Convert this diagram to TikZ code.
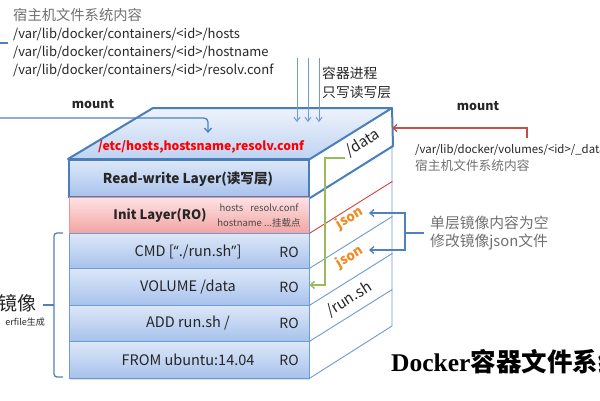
\documentclass[tikz,border=0pt]{standalone}
\usepackage{fontspec}
\setmainfont{Noto Sans CJK SC}
\newfontfamily\titleserif{Liberation Serif}
\newfontfamily\latinf{Open Sans}
\usetikzlibrary{arrows.meta,shadows}
\definecolor{edgeblue}{HTML}{4A7EBB}
\definecolor{lineblue}{HTML}{6C9BD6}
\definecolor{conblue}{HTML}{4F81BD}
\definecolor{fillblueT}{HTML}{DDE8F8}
\definecolor{fillblueB}{HTML}{A8C2EC}
\definecolor{topT}{HTML}{EEF3FC}
\definecolor{topB}{HTML}{BFD3F2}
\definecolor{fillredT}{HTML}{FDE3E3}
\definecolor{fillredB}{HTML}{F3A4A4}
\definecolor{redline}{HTML}{D9413A}
\definecolor{arrowred}{HTML}{C0504D}
\definecolor{greenline}{HTML}{9BBB59}
\definecolor{jsonorange}{HTML}{F08A24}
\definecolor{graytext}{HTML}{707070}
\definecolor{darktext}{HTML}{262626}
\tikzset{
  layer/.style={draw=lineblue, line width=0.8pt, top color=fillblueT, bottom color=fillblueB,
    minimum width=240pt, inner sep=0pt,
    drop shadow={opacity=0.25, shadow xshift=1pt, shadow yshift=-1.5pt}},
  txt/.style={inner sep=0pt, text=darktext},
  ltxt/.style={txt, font=\fontsize{14.5}{16}\selectfont},
  rotxt/.style={txt, font=\fontsize{14}{16}\selectfont},
  sidetxt/.style={txt, rotate=31.8, font=\fontsize{15}{17}\selectfont},
  conn/.style={draw=conblue, line width=1.3pt, -{Straight Barb[length=4pt,width=7pt]}},
}
\begin{document}
\begin{tikzpicture}[x=1pt,y=-1pt]
\useasboundingbox (0,0) rectangle (600,400);

% side face
\fill[white] (309,160) -- (392,108) -- (392,326) -- (309,378) -- cycle;

% front layers
\node[layer, minimum height=37pt, draw=edgeblue, line width=2pt] (rw) at (189,178.5) {};
\node[layer, minimum height=36pt, draw=redline!55, top color=fillredT, bottom color=fillredB] (init) at (189,215) {};
\node[layer, minimum height=35pt] (cmd) at (189,250.5) {};
\node[layer, minimum height=37pt] (vol) at (189,286.5) {};
\node[layer, minimum height=36pt] (add) at (189,323) {};
\node[layer, minimum height=37pt] (from) at (189,359.5) {};

% side face lines
\draw[lineblue, line width=0.9pt] (392,145) -- (392,326) -- (from.south east);
\draw[redline, line width=0.9pt] (init.south east) -- ++(83,-52);
\draw[lineblue, line width=0.9pt] (cmd.south east) -- ++(83,-52);
\draw[lineblue, line width=0.9pt] (vol.south east) -- ++(83,-52);
\draw[lineblue, line width=0.9pt] (add.south east) -- ++(83,-52);
\draw[lineblue, line width=0.9pt] (init.north east) -- (init.south east);
\draw[edgeblue, line width=2pt] (rw.south east) -- ++(83,-52) -- (392,108);

% top face
\draw[edgeblue, line width=2pt, top color=topT, bottom color=topB, line join=round]
  (rw.north west) -- (153,108) -- (392,108) -- (rw.north east) -- cycle;

% front texts
\node[txt, font=\bfseries\fontsize{13.6}{15}\selectfont] (trw) at (188,179) {Read-write Layer(读写层)};
\node[txt, font=\bfseries\fontsize{13}{15}\selectfont] (tinit) at (160,215) {Init Layer(RO)};
\node[txt, text=darktext!85, font=\fontsize{9.5}{11}\selectfont] (thosts) at (259,208) {hosts\hspace{7pt}resolv.conf};
\node[txt, text=darktext!85, font=\fontsize{9.5}{11}\selectfont] (thn) at (259,223) {hostname ...挂载点};
\node[ltxt] (tcmd) at (188,252) {CMD [{\latinf “}./run.sh{\latinf ”}]};
\node[ltxt] (tvol) at (188,287) {VOLUME /data};
\node[ltxt] (tadd) at (188,323) {ADD run.sh /};
\node[ltxt] (tfrom) at (188,360) {FROM ubuntu:14.04};
\node[rotxt] (ro1) at (289,252) {RO};
\node[rotxt] (ro2) at (289,287) {RO};
\node[rotxt] (ro3) at (289,323) {RO};
\node[rotxt] (ro4) at (289,360) {RO};

% top face text
\node[txt, text=red, font=\bfseries\fontsize{12.2}{14}\selectfont] (tetc) at (201,147) {/etc/hosts,hostsname,resolv.conf};

% side texts
\node[sidetxt] (sdata) at (363,143) {/data};
\node[sidetxt, text=jsonorange, font=\bfseries\fontsize{13.5}{15}\selectfont] (sj1) at (350,218) {json};
\node[sidetxt, text=jsonorange, font=\bfseries\fontsize{13.5}{15}\selectfont] (sj2) at (350,257) {json};
\node[sidetxt] (srun) at (349,299) {/run.sh};

% green bracket
\coordinate (g1) at (345,158);
\coordinate (g2) at (325,158);
\coordinate (g3) at (325,285);
\draw[greenline, line width=1.5pt, -{Straight Barb[length=4pt,width=7pt]}] (g1) -- (g2) -- (g3) -- (vol.east |- g3);

% top-left text
\node[txt, anchor=west, text=graytext, font=\fontsize{14.3}{16}\selectfont] (hl0) at (13,15) {宿主机文件系统内容};
\node[txt, anchor=west, font=\fontsize{13}{15}\selectfont] (hl1) at (13,34) {/var/lib/docker/containers/<id>/hosts};
\node[txt, anchor=west, font=\fontsize{13}{15}\selectfont] (hl2) at (13,52) {/var/lib/docker/containers/<id>/hostname};
\node[txt, anchor=west, font=\fontsize{13}{15}\selectfont] (hl3) at (13,70) {/var/lib/docker/containers/<id>/resolv.conf};
\coordinate (stubA) at (0,43);
\coordinate (stubB) at (8,43);
\draw[conblue, line width=1.3pt] (stubA) -- (stubB);

% left mount
\node[txt, font=\bfseries\fontsize{12.5}{14}\selectfont] (mountL) at (93,104) {mount};
\coordinate (lm0) at (0,118);
\coordinate (lm1) at (208,133);
\draw[conn, rounded corners=4pt] (lm0) -| (lm1);

% process arrows
\node[txt, anchor=west, font=\fontsize{13.8}{15}\selectfont] (proc1) at (322,73) {容器进程};
\node[txt, anchor=west, font=\fontsize{13.8}{15}\selectfont] (proc2) at (322,92) {只写读写层};
\foreach \x/\n in {297/a,308/b,319/c}{
  \coordinate (pa\n) at (\x,58);
  \coordinate (pb\n) at (\x,122);
  \draw[draw=lineblue, line width=1pt, -{Straight Barb[length=4pt,width=6pt]}] (pa\n) -- (pb\n);
}

% right mount
\node[txt, font=\bfseries\fontsize{12.5}{14}\selectfont] (mountR) at (478,106) {mount};
\node[txt, anchor=west, font=\fontsize{11.4}{13}\selectfont] (vol1) at (415,150) {/var/lib/docker/volumes/<id>/\_data};
\node[txt, anchor=west, text=graytext, font=\fontsize{12.7}{14}\selectfont] (vol2) at (415,166) {宿主机文件系统内容};
\coordinate (rm0) at (527,138);
\coordinate (rm1) at (392,128);
\draw[draw=arrowred, line width=1.3pt, -{Straight Barb[length=4pt,width=7pt]}] (rm0) |- (rm1);

% json explanation
\node[txt, anchor=west, text=graytext, font=\fontsize{14.8}{16}\selectfont] (ex1) at (430,223) {单层镜像内容为空};
\node[txt, anchor=west, text=graytext, font=\fontsize{14.8}{16}\selectfont] (ex2) at (430,242) {修改镜像json文件};
\coordinate (jx) at (405,233);
\coordinate (jt1) at (369,213);
\coordinate (jt2) at (369,250);
\draw[conblue, line width=1.3pt] (ex1.west |- jx) ++(-6,0) -- (jx);
\draw[conn] (jx) |- (jt1);
\draw[conn] (jx) |- (jt2);

% left brace
\coordinate (b1) at (63,233);
\coordinate (b2) at (63,377);
\coordinate (bt) at (43,305);
\draw[conblue, line width=1.3pt, rounded corners=3pt] (b1) -- (54,233) -- (54,377) -- (b2);
\draw[conblue, line width=1.3pt] (54,305) -- (bt);
\node[txt, anchor=east, font=\fontsize{19}{21}\selectfont] (img) at (37,303) {镜像};
\node[txt, anchor=east, font=\fontsize{9}{11}\selectfont] (imgsub) at (45,322) {erfile生成};

% title
\node[txt, anchor=west, text=black, font=\fontsize{25.5}{27}\selectfont\bfseries] (title) at (391,362) {{\titleserif Docker}容器文件系统};
\end{tikzpicture}
\end{document}
